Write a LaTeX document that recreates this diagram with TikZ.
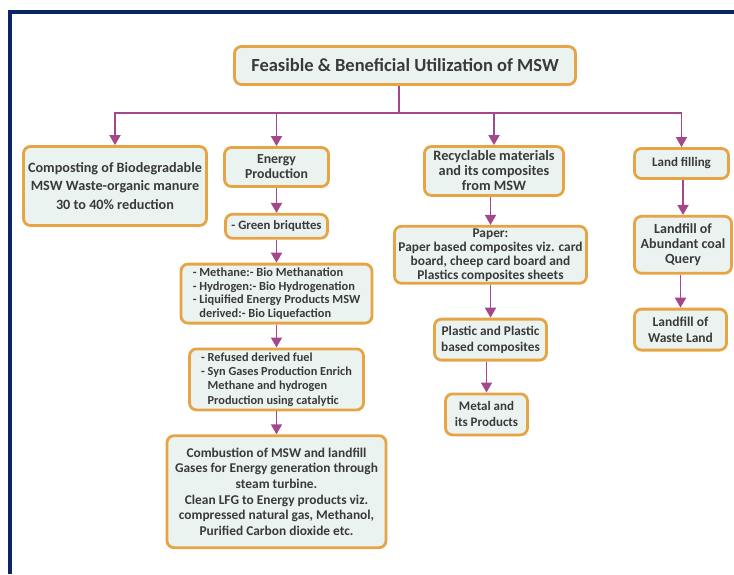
\documentclass[tikz,border=0pt]{standalone}
\usepackage{fontspec}
\setmainfont{Carlito}
\usepackage{tikz}
\usetikzlibrary{arrows.meta,positioning}
\definecolor{frameblue}{HTML}{0B2566}
\definecolor{boxline}{HTML}{E7A445}
\definecolor{boxfill}{HTML}{EAF3EF}
\definecolor{linkcol}{HTML}{A3488A}
\definecolor{txtgray}{HTML}{3A3A3A}
\newcommand{\fs}[2]{\fontsize{#1}{#2}\selectfont}

\begin{document}
\begin{tikzpicture}[x=1pt, y=-1pt, node distance=23pt]
\tikzstyle{box}=[draw=boxline, fill=boxfill, line width=2.8pt, rounded corners=7pt, align=center, text=txtgray, inner xsep=3pt, inner ysep=1pt, font=\bfseries\fs{13}{15}]
\tikzstyle{link}=[draw=linkcol, line width=1.8pt, -{Triangle[length=10pt,width=11pt]}]
\useasboundingbox (0,0) rectangle (734,574);
\draw[frameblue, line width=4pt] (10,574) -- (10,12) -- (734,12);
% top
\node[box, minimum width=341pt, minimum height=38pt, font=\bfseries\fs{18.5}{20}] (title) at (405,65.5) {Feasible \& Beneficial Utilization of MSW};
% composting
\node[box, minimum width=183pt, minimum height=79pt, font=\bfseries\fs{14.2}{18.3}] (comp) at (115,186) {Composting of Biodegradable\\MSW Waste-organic manure\\30 to 40\% reduction};
% energy column
\node[box, minimum width=104pt, minimum height=39pt, font=\bfseries\fs{13.8}{15}] (energy) at (276.5,167) {Energy\\Production};
\node[box, minimum width=102pt, minimum height=24pt, font=\bfseries\fs{12.8}{14}, below=25pt of energy] (green) {- Green briquttes};
\node[box, minimum width=191pt, minimum height=59pt, align=left, font=\bfseries\fs{12.4}{13.7}, below=of green] (meth) {- Methane:- Bio Methanation\\- Hydrogen:- Bio Hydrogenation\\- Liquified Energy Products MSW\\\hphantom{- }derived:- Bio Liquefaction};
\node[box, minimum width=174pt, minimum height=61pt, align=left, font=\bfseries\fs{12.3}{14.3}, below=of meth] (refused) {- Refused derived fuel\\- Syn Gases Production Enrich\\\hphantom{- }Methane and hydrogen\\\hphantom{- }Production using catalytic};
\node[box, minimum width=219pt, minimum height=112pt, font=\bfseries\fs{13.4}{15.7}, below=of refused] (comb) {Combustion of MSW and landfill\\Gases for Energy generation through\\steam turbine.\\Clean LFG to Energy products viz.\\compressed natural gas, Methanol,\\Purified Carbon dioxide etc.};
% recyclable column
\node[box, minimum width=139pt, minimum height=49pt, font=\bfseries\fs{14.3}{15}] (recyc) at (494,171) {Recyclable materials\\and its composites\\from MSW};
\node[box, minimum width=192pt, minimum height=57pt, font=\bfseries\fs{13.4}{14}, below=28pt of recyc, xshift=-3.5pt] (paper) {Paper:\\Paper based composites viz. card\\board, cheep card board and\\Plastics composites sheets};
\node[box, minimum width=112pt, minimum height=41pt, font=\bfseries\fs{13.3}{15.7}, below=33pt of paper] (plastic) {Plastic and Plastic\\based composites};
\node[box, minimum width=82pt, minimum height=41pt, font=\bfseries\fs{13}{16}, below=31pt of plastic, xshift=-4pt] (metal) {Metal and\\its Products};
% land column
\node[box, minimum width=94pt, minimum height=30pt] (land) at (681.5,163.5) {Land filling};
\node[box, minimum width=97pt, minimum height=57pt, font=\bfseries\fs{14}{15}, below=35pt of land, xshift=1.5pt] (coal) {Landfill of\\Abundant coal\\Query};
\node[box, minimum width=92pt, minimum height=41pt, font=\bfseries\fs{13.5}{16}, below=33pt of coal, xshift=-2.5pt] (waste) {Landfill of\\Waste Land};
% connectors
\coordinate (bar) at (0,113);
\coordinate (root) at ([xshift=-6pt]title.south);
\draw[linkcol, line width=1.8pt] (root) -- (root |- bar);
\draw[link] (root |- bar) -| (comp.north);
\draw[link] (root |- bar) -| (land.north);
\foreach \n in {energy,recyc}{\draw[link] (\n.north |- bar) -- (\n.north);}
\foreach \a/\b in {energy/green,green/meth,meth/refused,refused/comb,recyc/paper,paper/plastic,plastic/metal,land/coal,coal/waste}{\draw[link] (\b.north |- \a.south) -- (\b.north);}
\end{tikzpicture}
\end{document}
